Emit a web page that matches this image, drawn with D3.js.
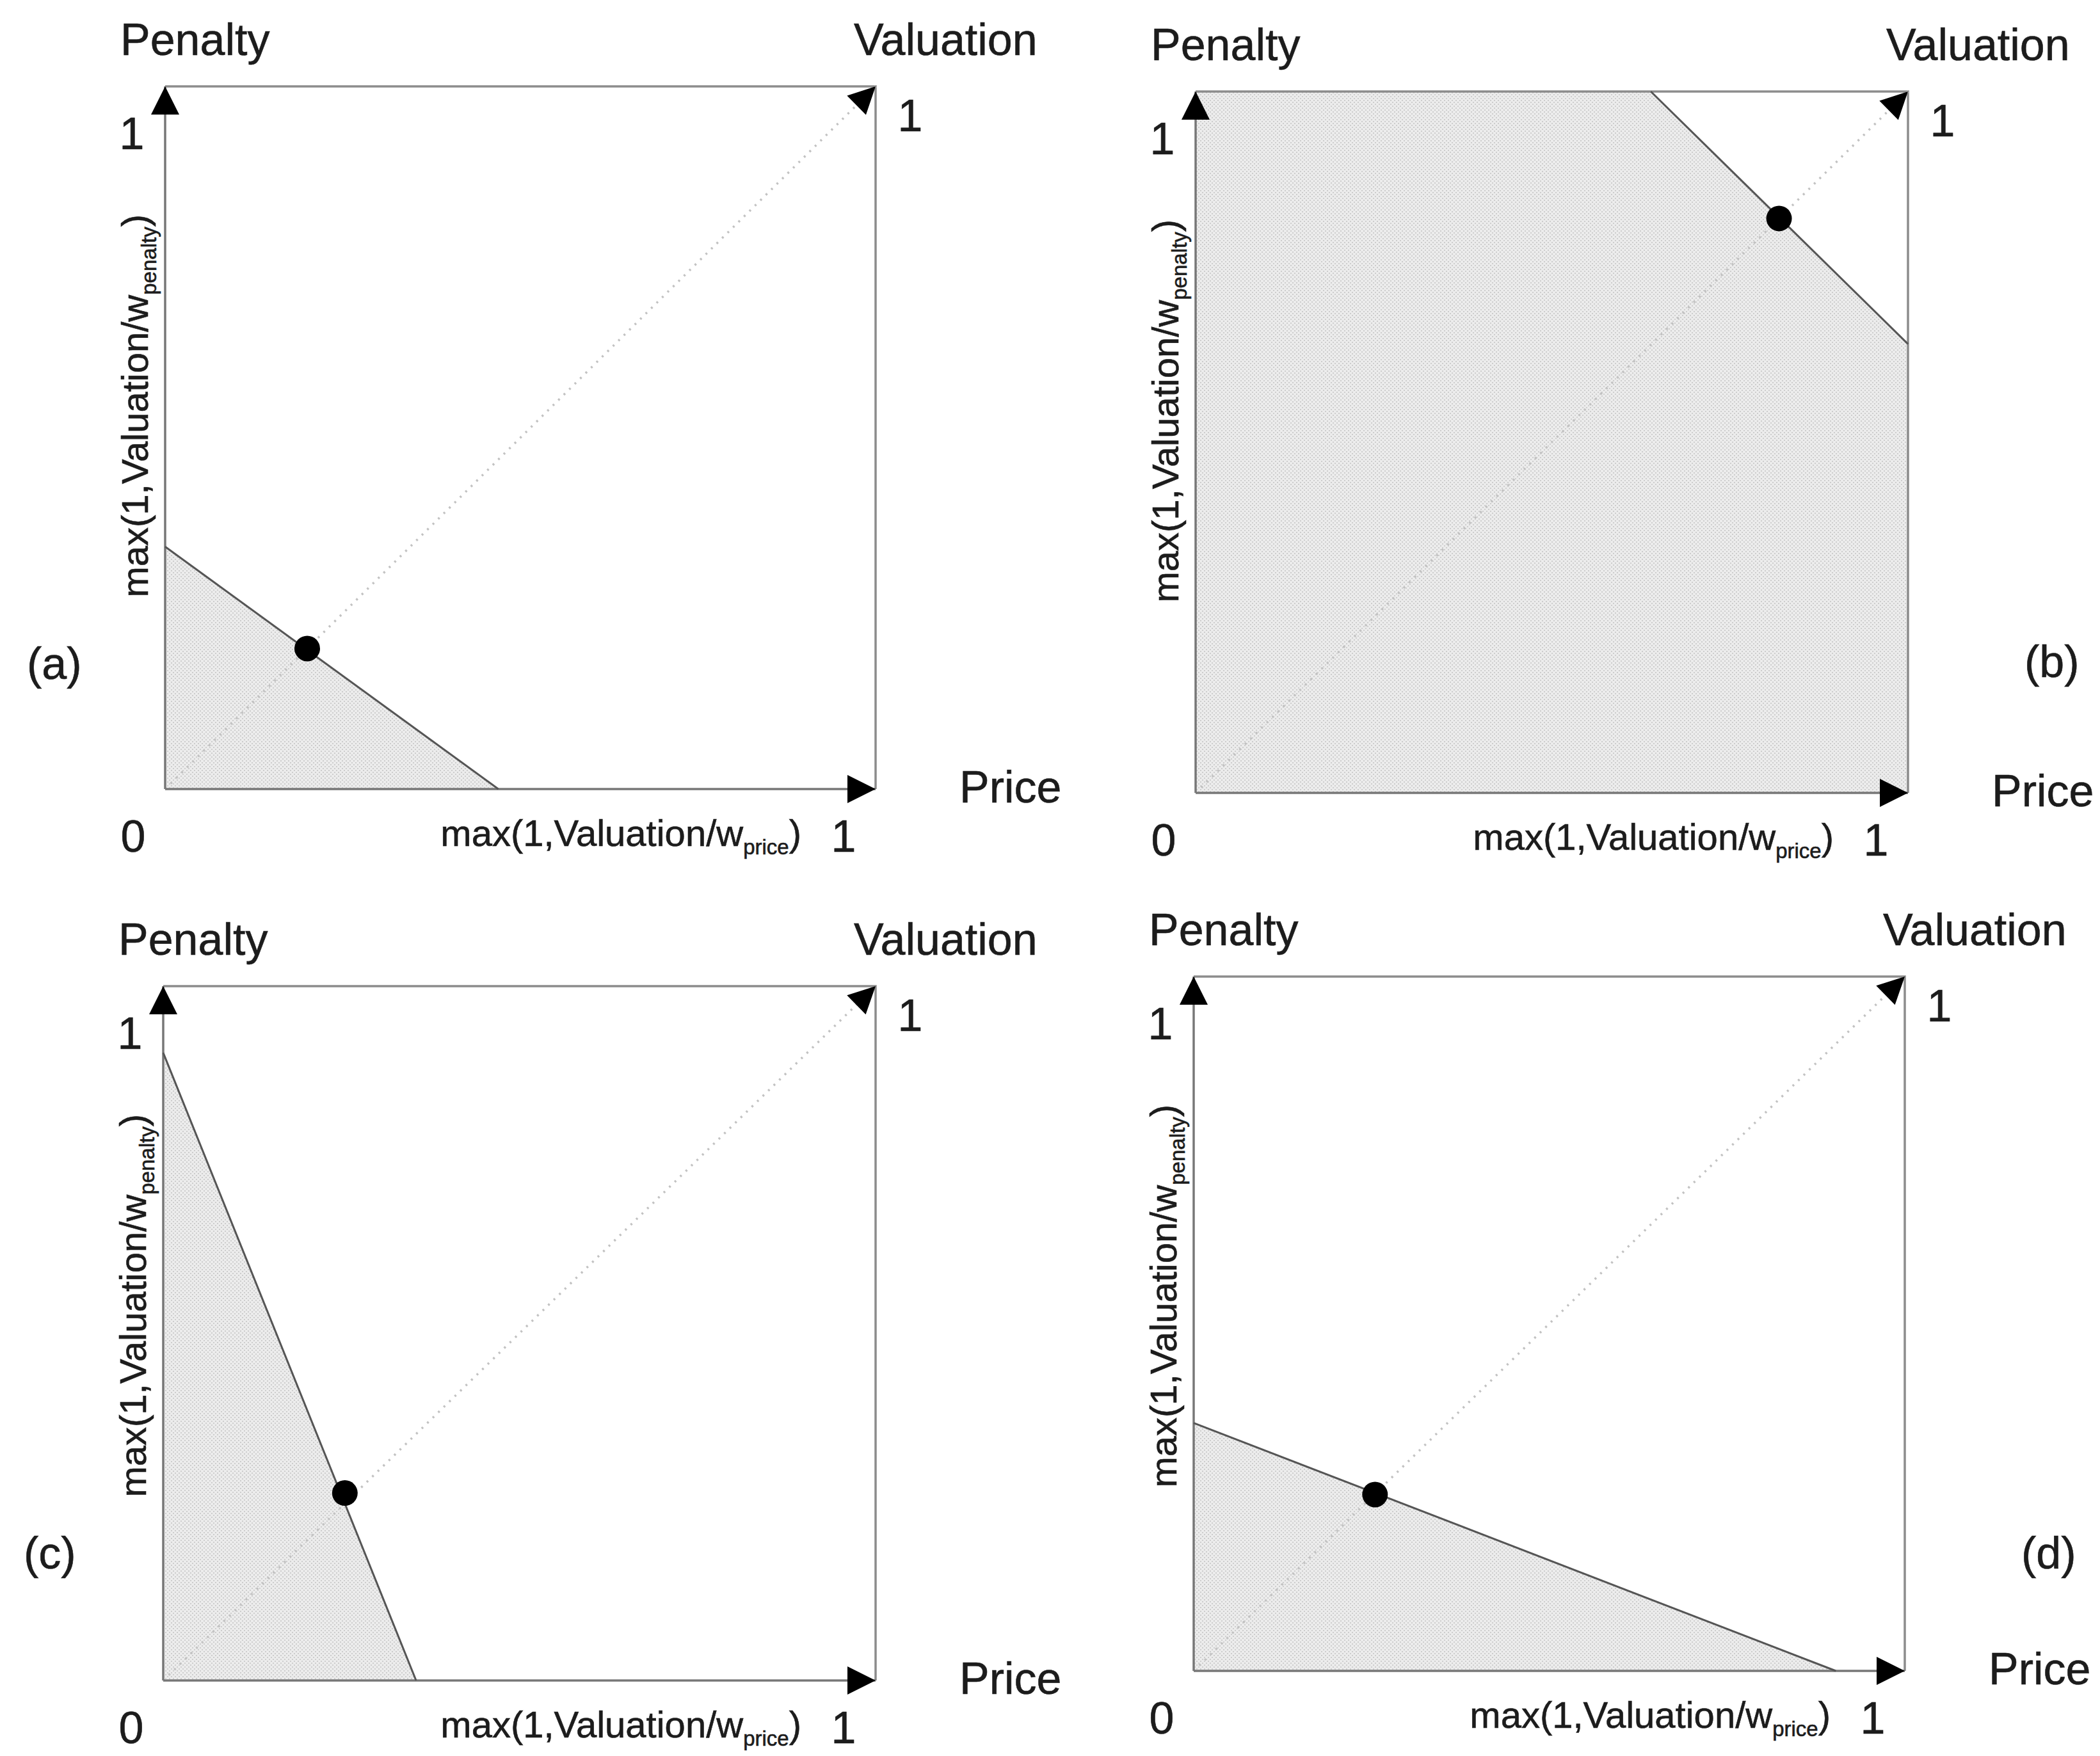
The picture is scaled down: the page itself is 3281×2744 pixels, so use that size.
<!DOCTYPE html>
<html>
<head>
<meta charset="utf-8">
<script src="https://cdn.jsdelivr.net/npm/d3@7"></script>
<style>
  body { margin: 0; background: #fff; }
  text { font-family: 'Liberation Sans', Arial, sans-serif; fill: #1c1c1c; stroke: #1c1c1c; stroke-width: 0.6px; }
</style>
</head>
<body>
<div class="canvas"></div>
<script>
const width = 3281, height = 2744

// values (unit square, 0..1 on both axes)
const panelNames = ['(a)', '(b)', '(c)', '(d)']
const tickLabels = ['0', '1']
const axisNames = ['Penalty', 'Valuation', 'Price']
const xLabel = ['max(1,Valuation/w', 'price', ')']
const yLabel = ['max(1,Valuation/w', 'penalty', ')']

const regionA = [[0, 0], [0, 0.345], [0.469, 0]]
const regionB = [[0, 0], [0, 1], [0.639, 1], [1, 0.64], [1, 0]]
const regionC = [[0, 0], [0, 0.904], [0.355, 0]]
const regionD = [[0, 0], [0, 0.357], [0.903, 0]]

const frontierA = [[0, 0.345], [0.469, 0]]
const frontierB = [[0.639, 1], [1, 0.64]]
const frontierC = [[0, 0.904], [0.355, 0]]
const frontierD = [[0, 0.357], [0.903, 0]]

const pointsAll = [[0.2, 0.2], [0.819, 0.819], [0.255, 0.27], [0.255, 0.254]]
const diagonal = [[0, 0], [1, 1]]

// layout of the four boxes (pixels)
const boxes = [
    {l: 258, t: 135, r: 1368, b: 1233, tx: 42, ty: 1061},
    {l: 1868, t: 143, r: 2981, b: 1239, tx: 3163, ty: 1058},
    {l: 255, t: 1541, r: 1368, b: 2626, tx: 37, ty: 2451},
    {l: 1865, t: 1526, r: 2976, b: 2611, tx: 3158, ty: 2451}
]
const regions = [regionA, regionB, regionC, regionD]
const frontiers = [frontierA, frontierB, frontierC, frontierD]

const svg = d3.select('.canvas').append('svg').attr('width', width).attr('height', height)
svg.append('rect').attr('width', width).attr('height', height).attr('fill', '#fff')

const defs = svg.append('defs')
const pat = defs.append('pattern').attr('id', 'shade')
    .attr('width', 6).attr('height', 6).attr('patternUnits', 'userSpaceOnUse')
pat.append('rect').attr('width', 6).attr('height', 6).attr('fill', '#ececec')
pat.append('rect').attr('x', 0).attr('y', 0).attr('width', 2).attr('height', 2).attr('fill', '#cdcdcd')
pat.append('rect').attr('x', 3).attr('y', 3).attr('width', 2).attr('height', 2).attr('fill', '#cdcdcd')

const addMarker = (id, w, h) => {
    defs.append('marker').attr('id', id)
        .attr('viewBox', '0 0 10 10').attr('refX', 10).attr('refY', 5)
        .attr('markerWidth', w).attr('markerHeight', h)
        .attr('markerUnits', 'userSpaceOnUse').attr('orient', 'auto')
        .append('path').attr('d', 'M0,0 L10,5 L0,10 Z').attr('fill', '#000')
}
addMarker('arrow', 46, 44)
addMarker('arrowDiag', 44, 42)

const line = d3.line()

boxes.forEach((bx, i) => {
    const x = d3.scaleLinear().domain([0, 1]).range([bx.l, bx.r])
    const y = d3.scaleLinear().domain([0, 1]).range([bx.b, bx.t])
    const g = svg.append('g')
    line.x(d => x(d[0])).y(d => y(d[1]))

    // shaded region
    g.append('path').attr('d', line(regions[i]) + 'Z').attr('fill', 'url(#shade)')

    // frame: top and right
    g.append('path').attr('d', line([[0, 1], [1, 1], [1, 0]]))
        .attr('fill', 'none').attr('stroke', '#8c8c8c').attr('stroke-width', 3.5)

    // dotted diagonal
    g.append('path').attr('d', line(diagonal))
        .attr('fill', 'none').attr('stroke', '#c2c2c2').attr('stroke-width', 3.5)
        .attr('stroke-dasharray', '3 9')
    g.append('path').attr('d', line([[0.96, 0.96], [1, 1]]))
        .attr('fill', 'none').attr('stroke', 'none')
        .attr('marker-end', 'url(#arrowDiag)')

    // axes with arrow heads
    g.append('path').attr('d', line([[0, 0], [0, 1]]))
        .attr('fill', 'none').attr('stroke', '#777').attr('stroke-width', 3.5)
        .attr('marker-end', 'url(#arrow)')
    g.append('path').attr('d', line([[0, 0], [1, 0]]))
        .attr('fill', 'none').attr('stroke', '#777').attr('stroke-width', 3.5)
        .attr('marker-end', 'url(#arrow)')

    // frontier line
    g.append('path').attr('d', line(frontiers[i]))
        .attr('fill', 'none').attr('stroke', '#555').attr('stroke-width', 3)

    // point
    g.append('circle').attr('cx', x(pointsAll[i][0])).attr('cy', y(pointsAll[i][1]))
        .attr('r', 20).attr('fill', '#000')

    // corner texts
    g.append('text').attr('x', x(0) - 70).attr('y', y(1) - 49)
        .style('font-size', '70px').text(axisNames[0])
    g.append('text').attr('x', x(1) - 34).attr('y', y(1) - 49)
        .style('font-size', '70px').text(axisNames[1])
    g.append('text').attr('x', x(1) + 131).attr('y', y(0) + 21)
        .style('font-size', '70px').text(axisNames[2])

    // 0 / 1 marks
    g.append('text').attr('x', x(0) - 50).attr('y', y(0) + 98)
        .attr('text-anchor', 'middle').style('font-size', '70px').text(tickLabels[0])
    g.append('text').attr('x', x(1) - 50).attr('y', y(0) + 98)
        .attr('text-anchor', 'middle').style('font-size', '70px').text(tickLabels[1])
    g.append('text').attr('x', x(0) - 52).attr('y', y(1) + 98)
        .attr('text-anchor', 'middle').style('font-size', '70px').text(tickLabels[1])
    g.append('text').attr('x', x(1) + 54).attr('y', y(1) + 70)
        .attr('text-anchor', 'middle').style('font-size', '70px').text(tickLabels[1])

    // axis labels
    const xl = g.append('text').attr('x', x(1) - 116).attr('y', y(0) + 89)
        .attr('text-anchor', 'end').style('font-size', '58px')
    xl.append('tspan').text(xLabel[0])
    xl.append('tspan').attr('dy', 13).style('font-size', '33px').text(xLabel[1])
    xl.append('tspan').attr('dy', -13).text(xLabel[2])

    const yl = g.append('text')
        .attr('transform', `translate(${x(0) - 27}, ${y(1) + 200}) rotate(-90)`)
        .attr('text-anchor', 'end').style('font-size', '58px')
    yl.append('tspan').text(yLabel[0])
    yl.append('tspan').attr('dy', 13).style('font-size', '33px').text(yLabel[1])
    yl.append('tspan').attr('dy', -13).text(yLabel[2])

    // panel tag
    g.append('text').attr('x', bx.tx).attr('y', bx.ty)
        .style('font-size', '70px').text(panelNames[i])
})
</script>
</body>
</html>
